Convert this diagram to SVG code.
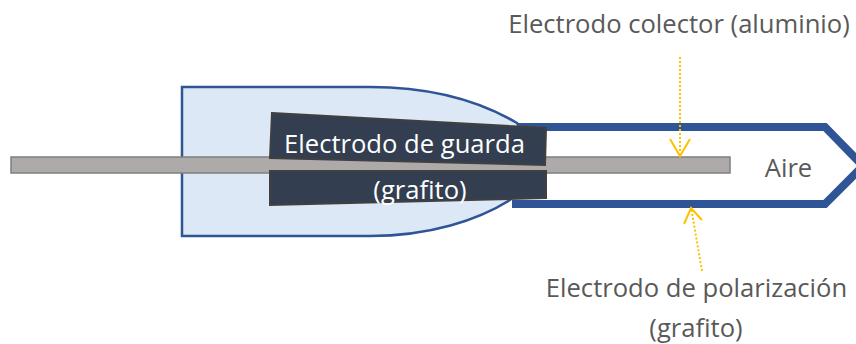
<svg xmlns="http://www.w3.org/2000/svg" width="856" height="344" viewBox="0 0 856 344">
<style>
text{font-family:"Open Sans","Noto Sans",sans-serif;font-size:25.6px;fill:#595959}
text.w{fill:#fff}
.lead{fill:none;stroke:#ffc000;stroke-width:2;stroke-dasharray:2 2}
.head{fill:none;stroke:#ffc000;stroke-width:2}
.dark{fill:#333f50;stroke:#404040;stroke-width:2}
</style>
<g id="polarizacion">
<path d="M512 127H825L863 166L825 204H512" fill="none" stroke="#2f5597" stroke-width="8"/>
</g>
<g id="cuerpo">
<path d="M182 87H370C428 87 478 100 517 123L540 160L510 200C478 220 430 236 370 236H182Z" fill="#dce8f5" stroke="#2f5597" stroke-width="2.500"/>
</g>
<g id="colector">
<rect x="11" y="157" width="719" height="16" fill="#aeaaaa" stroke="#7f7f7f" stroke-width="1.500"/>
</g>
<g id="guarda">
<path class="dark" d="M272 113L546 128L545 165L270 158Z"/>
<path class="dark" d="M270 171H546V198L270 205Z"/>
<text class="w" x="404.500" y="153" text-anchor="middle">Electrodo de guarda</text>
<text class="w" x="420" y="199" text-anchor="middle">(grafito)</text>
</g>
<g id="conectores">
<path class="lead" d="M680 57V155"/>
<path class="head" d="M670 139L680 156L690 139"/>
<path class="lead" d="M702 271L691 207"/>
<path class="head" d="M684 224L691 208L702 220"/>
</g>
<g id="etiquetas">
<text x="679" y="33" text-anchor="middle">Electrodo colector (aluminio)</text>
<text x="788.500" y="177" text-anchor="middle">Aire</text>
<text x="696.500" y="297" text-anchor="middle">Electrodo de polarización</text>
<text x="696" y="337" text-anchor="middle">(grafito)</text>
</g>
</svg>
